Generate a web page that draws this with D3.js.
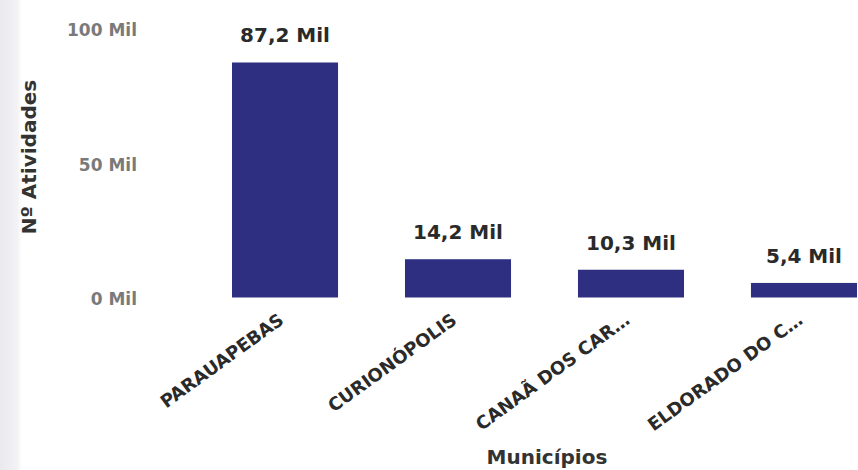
<!DOCTYPE html>
<html>
<head>
<meta charset="utf-8">
<script src="https://cdn.jsdelivr.net/npm/d3@7"></script>
<style>
  html, body { margin: 0; padding: 0; background: #ffffff; }
  svg { display: block; }
</style>
</head>
<body>
<svg id="chart" width="858" height="470"></svg>
<script>
const categories = ["PARAUAPEBAS", "CURIONÓPOLIS", "CANAÃ DOS CAR…", "ELDORADO DO C…"];
const values = [87.2, 14.2, 10.3, 5.4];
const valueLabels = ["87,2 Mil", "14,2 Mil", "10,3 Mil", "5,4 Mil"];
const yTickValues = [0, 50, 100];
const yTickLabels = ["0 Mil", "50 Mil", "100 Mil"];
const yTitle = "Nº Atividades";
const xTitle = "Municípios";

const svg = d3.select("#chart");
const W = 858, H = 470;
const FONT = "'DejaVu Sans', sans-serif";

// left gray strip
const defs = svg.append("defs");
const grad = defs.append("linearGradient").attr("id", "strip").attr("x1", "0").attr("x2", "1");
grad.append("stop").attr("offset", "0").attr("stop-color", "#e9e9ee");
grad.append("stop").attr("offset", "0.8").attr("stop-color", "#f3f3f6");
grad.append("stop").attr("offset", "1").attr("stop-color", "#ffffff");
svg.append("rect").attr("x", 0).attr("y", 0).attr("width", 22).attr("height", H).attr("fill", "url(#strip)");

const x = d3.scaleBand().domain(categories).range([232, 857]).paddingInner(0.387).paddingOuter(0);
const y = d3.scaleLinear().domain([0, 100]).range([297.5, 28]);

// y axis tick labels
const yAxis = d3.axisLeft(y).tickValues(yTickValues).tickSize(0).tickPadding(0)
  .tickFormat((d, i) => yTickLabels[i]);
const gy = svg.append("g").attr("transform", "translate(137,2)").call(yAxis);
gy.select(".domain").remove();
gy.selectAll("text").attr("font-family", FONT).attr("font-size", 17).attr("fill", "#7a7a7a")
  .attr("font-weight", "bold");

// bars
svg.append("g").selectAll("rect").data(categories).join("rect")
  .attr("x", d => x(d))
  .attr("y", (d, i) => y(values[i]))
  .attr("width", x.bandwidth())
  .attr("height", (d, i) => y(0) - y(values[i]))
  .attr("fill", "#2e2f80");

// data labels
svg.append("g").selectAll("text").data(categories).join("text")
  .attr("x", d => x(d) + x.bandwidth() / 2)
  .attr("y", (d, i) => y(values[i]) - 20)
  .attr("text-anchor", "middle")
  .attr("font-family", FONT).attr("font-weight", "bold").attr("font-size", 20)
  .attr("fill", "#2a2a2a")
  .text((d, i) => valueLabels[i]);

// x axis labels
const xAxis = d3.axisBottom(x).tickSize(0).tickPadding(0);
const gx = svg.append("g").attr("transform", `translate(0,${y(0)})`).call(xAxis);
gx.select(".domain").remove();
gx.selectAll("text")
  .attr("font-family", FONT).attr("font-weight", "bold").attr("font-size", 18)
  .attr("fill", "#2a2a2a")
  .attr("text-anchor", "end")
  .attr("dy", null).attr("y", 0)
  .attr("transform", "translate(0,25) rotate(-36)");

// axis titles
svg.append("text")
  .attr("transform", "translate(36,157) rotate(-90)")
  .attr("text-anchor", "middle")
  .attr("font-family", FONT).attr("font-weight", "bold").attr("font-size", 20)
  .attr("fill", "#333333")
  .text(yTitle);

svg.append("text")
  .attr("x", 547).attr("y", 464)
  .attr("text-anchor", "middle")
  .attr("font-family", FONT).attr("font-weight", "bold").attr("font-size", 20)
  .attr("fill", "#333333")
  .text(xTitle);
</script>
</body>
</html>
